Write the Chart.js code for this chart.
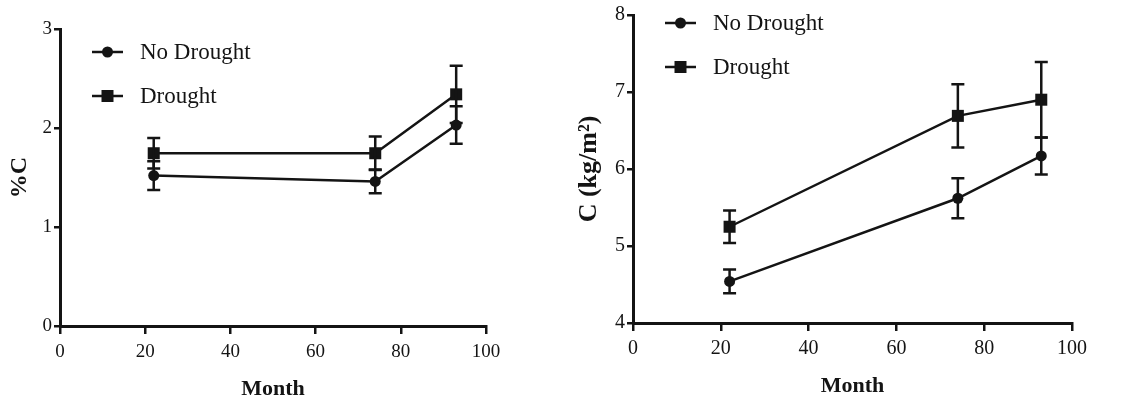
<!DOCTYPE html>
<html>
<head>
<meta charset="utf-8">
<script src="https://cdn.jsdelivr.net/npm/chart.js@4.4.0/dist/chart.umd.min.js"></script>
<style>
  body { margin: 0; background: #fff; }
  #wrap { position: relative; width: 1136px; height: 400px; }
  #leftChart { position: absolute; left: 0; top: 0; }
  #rightChart { position: absolute; left: 568px; top: 0; }
</style>
</head>
<body>
<div id="wrap">
  <canvas id="leftChart" width="560" height="400"></canvas>
  <canvas id="rightChart" width="568" height="400"></canvas>
</div>
<script>
// months sampled
const months = [22, 74, 93];

// left panel: %C
const pctNoDrought = [1.52, 1.46, 2.03];
const pctNoDroughtErr = [0.145, 0.12, 0.19];
const pctDrought = [1.745, 1.745, 2.34];
const pctDroughtErr = [0.155, 0.17, 0.29];

// right panel: C (kg/m2)
const kgNoDrought = [4.54, 5.62, 6.17];
const kgNoDroughtErr = [0.155, 0.26, 0.24];
const kgDrought = [5.25, 6.69, 6.90];
const kgDroughtErr = [0.21, 0.41, 0.49];

const xTicks = [0, 20, 40, 60, 80, 100];
const leftYTicks = [0, 1, 2, 3];
const rightYTicks = [4, 5, 6, 7, 8];

const ink = '#141414';
const serif = "'Liberation Serif', 'Times New Roman', serif";

function pts(xs, ys) {
    return xs.map((x, i) => ({x: x, y: ys[i]}));
}

// error bars + legend with line through marker
const errorBars = {
    id: 'errorBars',
    afterDatasetsDraw(chart, args, opts) {
        const ctx = chart.ctx;
        const xs = chart.scales.x, ys = chart.scales.y;
        ctx.save();
        ctx.strokeStyle = ink;
        ctx.lineWidth = 2.5;
        chart.data.datasets.forEach(ds => {
            ds.data.forEach((p, i) => {
                const e = ds.errors[i];
                const px = xs.getPixelForValue(p.x);
                const top = ys.getPixelForValue(p.y + e);
                const bot = ys.getPixelForValue(p.y - e);
                ctx.beginPath();
                ctx.moveTo(px, top); ctx.lineTo(px, bot);
                ctx.moveTo(px - 6.5, top); ctx.lineTo(px + 6.5, top);
                ctx.moveTo(px - 6.5, bot); ctx.lineTo(px + 6.5, bot);
                ctx.stroke();
            });
        });
        // legend
        const L = chart.chartArea.left;
        ctx.font = '23px ' + serif;
        ctx.textBaseline = 'middle';
        ctx.fillStyle = ink;
        chart.data.datasets.forEach((ds, i) => {
            const y = opts.legendY[i];
            ctx.beginPath();
            ctx.moveTo(L + 32, y); ctx.lineTo(L + 63, y);
            ctx.stroke();
            const mx = L + 47.5;
            ctx.beginPath();
            if (ds.pointStyle === 'rect') {
                ctx.rect(mx - 6, y - 6, 12, 12);
            } else {
                ctx.arc(mx, y, 5.5, 0, Math.PI * 2);
            }
            ctx.fill();
            ctx.fillText(ds.label, L + 80, y + 1);
        });
        ctx.restore();
    }
};

function makeChart(id, noDr, noDrErr, dr, drErr, yTicks, yTitle, cfg) {
    const ctx = document.getElementById(id).getContext('2d');
    return new Chart(ctx, {
        type: 'line',
        data: {
            datasets: [{
                label: 'No Drought',
                data: pts(months, noDr),
                errors: noDrErr,
                borderColor: ink,
                backgroundColor: ink,
                borderWidth: 2.5,
                pointStyle: 'circle',
                pointRadius: 5.5,
                pointBorderWidth: 0,
                tension: 0
            }, {
                label: 'Drought',
                data: pts(months, dr),
                errors: drErr,
                borderColor: ink,
                backgroundColor: ink,
                borderWidth: 2.5,
                pointStyle: 'rect',
                pointRadius: 8.5,
                pointBorderWidth: 0,
                tension: 0
            }]
        },
        options: {
            responsive: false,
            animation: false,
            layout: {
                autoPadding: false,
                padding: {left: 0, top: cfg.top, right: cfg.right, bottom: 0}
            },
            scales: {
                x: {
                    type: 'linear',
                    min: xTicks[0],
                    max: xTicks[xTicks.length - 1],
                    afterBuildTicks: s => { s.ticks = xTicks.map(v => ({value: v})); },
                    ticks: {color: ink, font: {family: serif, size: cfg.tickSize}, padding: cfg.xTickPad},
                    grid: {drawOnChartArea: false, drawTicks: true, tickLength: 8, color: ink, lineWidth: 2.5},
                    border: {color: ink, width: 3},
                    title: {display: true, text: 'Month', color: ink,
                        font: {family: serif, size: 22, weight: 'bold'}, padding: {top: 4, bottom: cfg.xTitleBottom}},
                    afterFit: s => { s.height = cfg.xHeight; }
                },
                y: {
                    type: 'linear',
                    min: yTicks[0],
                    max: yTicks[yTicks.length - 1],
                    afterBuildTicks: s => { s.ticks = yTicks.map(v => ({value: v})); },
                    ticks: {color: ink, font: {family: serif, size: cfg.tickSize}, padding: 2},
                    grid: {drawOnChartArea: false, drawTicks: true, tickLength: 6, color: ink, lineWidth: 2.5},
                    border: {color: ink, width: 3},
                    title: {display: true, text: yTitle, color: ink,
                        font: {family: serif, size: cfg.yTitleSize, weight: 'bold'}, padding: {top: cfg.yTitleTop, bottom: 4}},
                    afterFit: s => { s.width = cfg.yWidth; }
                }
            },
            plugins: {
                legend: {display: false},
                tooltip: {enabled: false},
                errorBars: {legendY: cfg.legendY}
            }
        },
        plugins: [errorBars]
    });
}

makeChart('leftChart', pctNoDrought, pctNoDroughtErr, pctDrought, pctDroughtErr, leftYTicks, '%C',
    {top: 29, right: 74, xHeight: 74, yWidth: 60, tickSize: 19, xTickPad: 7, xTitleBottom: -3,
     yTitleSize: 24, yTitleTop: 5, legendY: [52, 96]});
makeChart('rightChart', kgNoDrought, kgNoDroughtErr, kgDrought, kgDroughtErr, rightYTicks, 'C (kg/m²)',
    {top: 15, right: 64, xHeight: 77, yWidth: 65, tickSize: 20, xTickPad: 6, xTitleBottom: 0,
     yTitleSize: 26, yTitleTop: 6, legendY: [23, 67]});
</script>
</body>
</html>
